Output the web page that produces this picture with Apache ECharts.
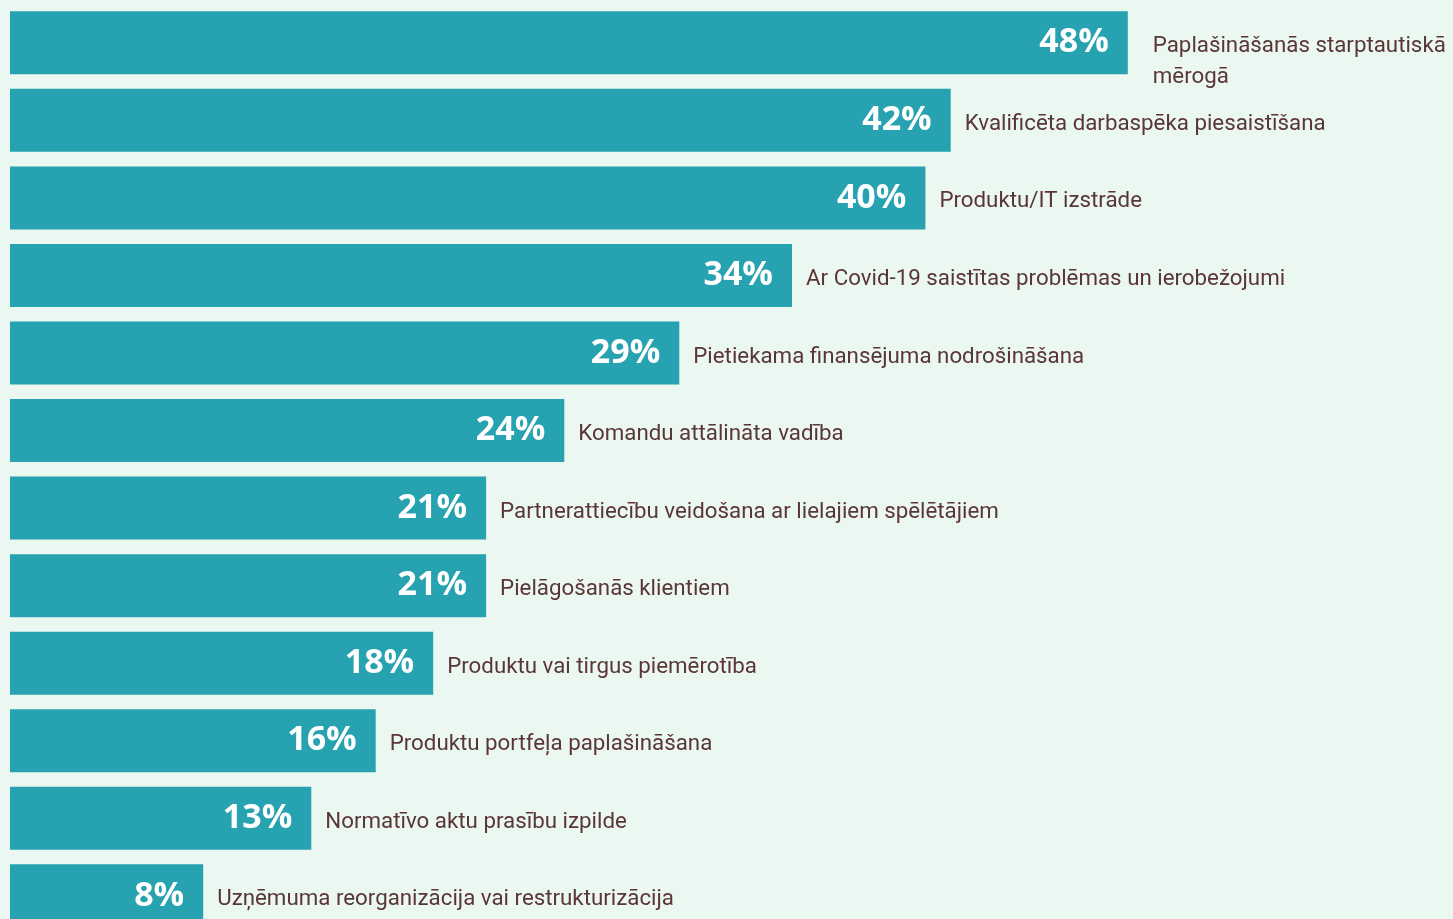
<!DOCTYPE html>
<html lang="lv">
<head>
    <meta charset="utf-8"/>
    <title>Izaicinājumi</title>
    <script src="https://cdn.jsdelivr.net/npm/echarts@6/dist/echarts.min.js" type="text/javascript"></script>
    <style>
        html, body { margin: 0; padding: 0; background: #ebf7f1; overflow: hidden; }
        #main { width: 1453px; height: 935px; }
    </style>
</head>
<body>
<div id="main"></div>
<script>
    // nosaukumi (no augšas uz leju)
    var categories = [
        'Paplašināšanās starptautiskā mērogā',
        'Kvalificēta darbaspēka piesaistīšana',
        'Produktu/IT izstrāde',
        'Ar Covid-19 saistītas problēmas un ierobežojumi',
        'Pietiekama finansējuma nodrošināšana',
        'Komandu attālināta vadība',
        'Partnerattiecību veidošana ar lielajiem spēlētājiem',
        'Pielāgošanās klientiem',
        'Produktu vai tirgus piemērotība',
        'Produktu portfeļa paplašināšana',
        'Normatīvo aktu prasību izpilde',
        'Uzņēmuma reorganizācija vai restrukturizācija'
    ];
    // stabiņu garums, nolasīts no attēla
    var shares = [48.6, 40.9, 39.8, 34.0, 29.1, 24.1, 20.7, 20.7, 18.4, 15.9, 13.1, 8.4];
    // uzraksti stabiņos
    var shareLabels = ['48%', '42%', '40%', '34%', '29%', '24%', '21%', '21%', '18%', '16%', '13%', '8%'];

    // garo nosaukumu pārnes jaunā rindā (augšējam stabiņam vietas maz)
    function wrap(text, maxChars) {
        var lines = [], line = '';
        text.split(' ').forEach(function (w) {
            if (line && (line + ' ' + w).length > maxChars) {
                lines.push(line);
                line = w;
            } else {
                line = line ? line + ' ' + w : w;
            }
        });
        lines.push(line);
        return lines.join('\n');
    }

    var nameData = shares.map(function (v, i) {
        var item = { value: v };
        if (i === 0) {
            item.label = { lineHeight: 31, offset: [11, 19] };
        }
        return item;
    });

    var myChart = echarts.init(document.getElementById('main'));
    var options = {
        backgroundColor: '#ebf7f1',
        animation: false,
        grid: { left: 10, top: 4, width: 1380, height: 930.6 },
        xAxis: { type: 'value', min: 0, max: 60, show: false },
        yAxis: { type: 'category', data: categories, inverse: true, show: false },
        series: [{
            type: 'bar',
            data: shares,
            barWidth: 63,
            itemStyle: { color: '#27a2b0' },
            label: {
                show: true,
                position: 'insideRight',
                distance: 19,
                color: '#ffffff',
                fontFamily: 'Open Sans',
                fontWeight: 'bold',
                fontSize: 34,
                formatter: function (p) { return shareLabels[p.dataIndex]; }
            }
        }, {
            type: 'bar',
            data: nameData,
            barWidth: 63,
            barGap: '-100%',
            silent: true,
            itemStyle: { color: 'rgba(0,0,0,0)' },
            label: {
                show: true,
                position: 'right',
                distance: 14,
                offset: [0, 4],
                color: '#5a3636',
                fontFamily: 'Roboto, sans-serif',
                fontSize: 22.3,
                formatter: function (p) {
                    var name = categories[p.dataIndex];
                    return p.dataIndex === 0 ? wrap(name, 28) : name;
                }
            }
        }]
    };
    myChart.setOption(options);
</script>
</body>
</html>
